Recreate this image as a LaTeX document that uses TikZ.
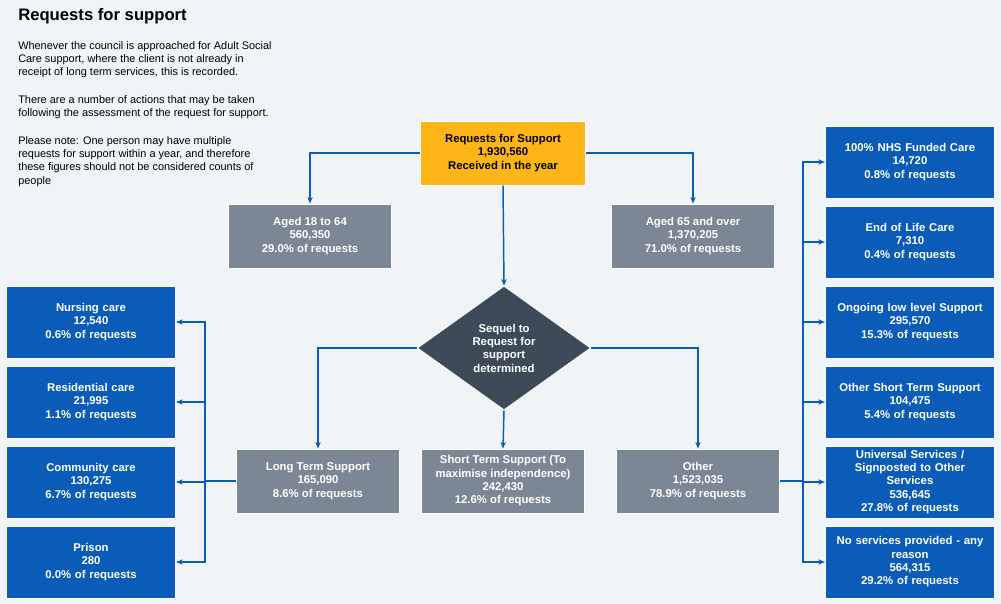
\documentclass[tikz,border=0pt]{standalone}
\usepackage{fontspec}
\setmainfont{Liberation Sans}
\usetikzlibrary{shapes.geometric,arrows.meta}
\definecolor{bg}{HTML}{F0F4F6}
\definecolor{boxblue}{HTML}{0A5CB8}
\definecolor{boxgrey}{HTML}{7B8794}
\definecolor{boxgold}{HTML}{FDB517}
\definecolor{dslate}{HTML}{3D4B59}
\tikzset{
  box/.style={draw=white, line width=0.6pt, align=center, inner sep=1pt,
    font=\fontsize{8.5}{10}\selectfont\bfseries},
  gbox/.style={box, fill=boxgrey, text=white, minimum width=122pt, minimum height=48pt},
  bbox/.style={box, fill=boxblue, text=white, minimum width=127pt, minimum height=54pt, text width=118pt},
  ybox/.style={box, fill=boxgold, text=black, minimum width=124pt, minimum height=48pt},
  dbox/.style={box, diamond, fill=dslate, text=white, minimum width=130pt, minimum height=93pt, inner sep=0pt},
  link/.style={draw=boxblue, line width=1.1pt, -{Stealth[length=5pt,width=4pt]}},
  bus/.style={draw=boxblue, line width=1.1pt},
  note/.style={anchor=north west, align=left, inner sep=0pt, font=\fontsize{8.2}{10}\selectfont}
}
\begin{document}
\begin{tikzpicture}[x=0.75pt,y=-0.75pt]
\useasboundingbox[fill=bg] (0,0) rectangle (1001,604);

% header and notes
\node[note, font=\fontsize{12.5}{14}\selectfont\bfseries] (title) at (18,8) {Requests for support};
\node[note] (intro) at (18,41) {Whenever the council is approached for Adult Social\\Care support, where the client is not already in\\receipt of long term services, this is recorded.};
\node[note] (actions) at (18,95) {There are a number of actions that may be taken\\following the assessment of the request for support.};
\node[note] (caveat) at (18,136) {Please note: One person may have multiple\\requests for support within a year, and therefore\\these figures should not be considered counts of\\people};

% main flow
\node[ybox] (REQ) at (503,153) {Requests for Support\\1,930,560\\Received in the year};
\node[gbox] (AGE1) at (310,236) {Aged 18 to 64\\560,350\\29.0\% of requests};
\node[gbox] (AGE2) at (693,236) {Aged 65 and over\\1,370,205\\71.0\% of requests};
\node[dbox] (SEQ) at (504,348) {Sequel to\\Request for\\support\\determined};
\node[gbox] (LTS) at (318,481) {Long Term Support\\165,090\\8.6\% of requests};
\node[gbox] (STS) at (503,481) {Short Term Support (To\\maximise independence)\\242,430\\12.6\% of requests};
\node[gbox] (OTH) at (698,481) {Other\\1,523,035\\78.9\% of requests};

% long term outcomes
\node[bbox] (NUR) at (91,322) {Nursing care\\12,540\\0.6\% of requests};
\node[bbox] (RES) at (91,402) {Residential care\\21,995\\1.1\% of requests};
\node[bbox] (COM) at (91,482) {Community care\\130,275\\6.7\% of requests};
\node[bbox] (PRI) at (91,562) {Prison\\280\\0.0\% of requests};

% other outcomes
\node[bbox] (NHS) at (910,162) {100\% NHS Funded Care\\14,720\\0.8\% of requests};
\node[bbox] (EOL) at (910,242) {End of Life Care\\7,310\\0.4\% of requests};
\node[bbox] (OLL) at (910,322) {Ongoing low level Support\\295,570\\15.3\% of requests};
\node[bbox] (OST) at (910,402) {Other Short Term Support\\104,475\\5.4\% of requests};
\node[bbox] (UNI) at (910,482) {Universal Services /\\Signposted to Other\\Services\\536,645\\27.8\% of requests};
\node[bbox] (NOS) at (910,562) {No services provided - any\\reason\\564,315\\29.2\% of requests};

\coordinate (LBUS) at (205,481);
\coordinate (RBUS) at (803,481);

\draw[link] (REQ.west) -| (AGE1.north);
\draw[link] (REQ.east) -| (AGE2.north);
\draw[link] (REQ.south) -- (SEQ.north);
\draw[link] (SEQ.west) -| (LTS.north);
\draw[link] (SEQ.south) -- (STS.north);
\draw[link] (SEQ.east) -| (OTH.north);

\draw[bus] (LTS.west) -- (LBUS);
\foreach \t in {NUR,RES,COM,PRI}
  \draw[link] (LBUS) |- (\t.east);
\draw[bus] (OTH.east) -- (RBUS);
\foreach \t in {NHS,EOL,OLL,OST,UNI,NOS}
  \draw[link] (RBUS) |- (\t.west);
\end{tikzpicture}
\end{document}
